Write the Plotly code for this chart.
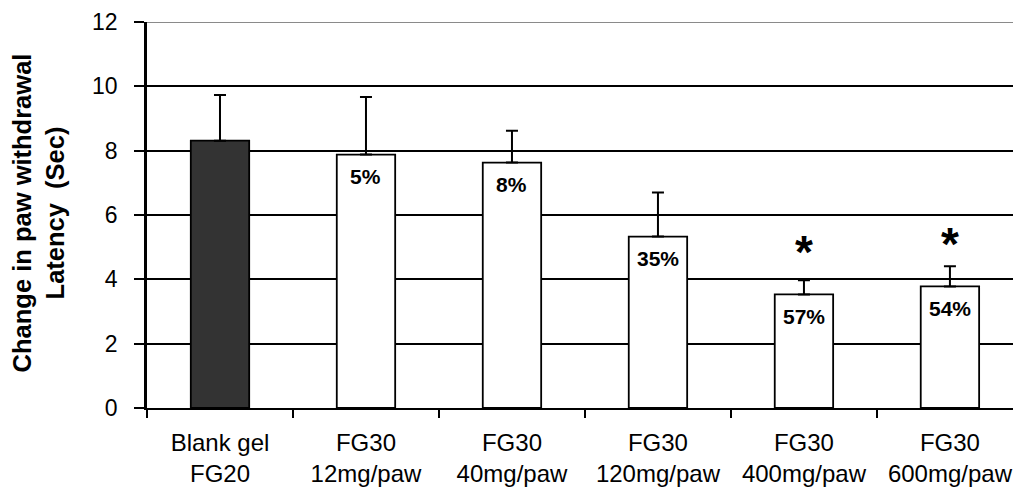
import plotly.graph_objects as go

# Paw withdrawal latency data
categories = ["Blank gel<br>FG20", "FG30<br>12mg/paw", "FG30<br>40mg/paw",
              "FG30<br>120mg/paw", "FG30<br>400mg/paw", "FG30<br>600mg/paw"]
means = [8.31, 7.88, 7.63, 5.33, 3.53, 3.78]
sd_upper = [1.42, 1.79, 0.99, 1.37, 0.44, 0.63]
pct_labels = ["", "5%", "8%", "35%", "57%", "54%"]
bar_colors = ["#333333", "#ffffff", "#ffffff", "#ffffff", "#ffffff", "#ffffff"]
sig_marks = ["", "", "", "", "*", "*"]
sig_heights = [None, None, None, None, 5.15, 5.42]

FONT = "Liberation Sans, Arial, sans-serif"

fig = go.Figure()
fig.add_trace(go.Bar(
    x=categories,
    y=means,
    width=0.4,
    marker=dict(color=bar_colors, line=dict(color="black", width=1.8)),
    error_y=dict(type="data", symmetric=False, array=sd_upper,
                 arrayminus=[0] * len(means), color="black",
                 thickness=2, width=6),
    showlegend=False,
))

annotations = []
# percentage labels just inside the top of each bar
for cat, m, lab in zip(categories, means, pct_labels):
    if lab:
        annotations.append(dict(
            x=cat, y=m, xref="x", yref="y", text=f"<b>{lab}</b>",
            showarrow=False, yanchor="middle", xanchor="center", yshift=-22,
            font=dict(family=FONT, size=21, color="black")))
# significance asterisks
for cat, s, h in zip(categories, sig_marks, sig_heights):
    if s:
        annotations.append(dict(
            x=cat, y=h, xref="x", yref="y", text=f"<b>{s}</b>",
            showarrow=False, yanchor="middle", xanchor="center", yshift=-10,
            font=dict(family=FONT, size=46, color="black")))
# y-axis title (two lines)
annotations.append(dict(
    x=-0.1255, y=0.505, xref="paper", yref="paper",
    text="<b>Change in paw withdrawal</b><br><b>Latency &nbsp;(Sec)</b>",
    textangle=-90, showarrow=False, xanchor="center", yanchor="middle",
    font=dict(family=FONT, size=25.5, color="black")))

fig.update_layout(
    width=1013, height=490,
    margin=dict(l=147, r=0, t=22, b=82, pad=0),
    paper_bgcolor="white", plot_bgcolor="white",
    font=dict(family=FONT, color="black"),
    annotations=annotations,
    shapes=[dict(type="line", xref="paper", yref="y", x0=0, x1=1, y0=12, y1=12,
                 line=dict(color="#8a8a8a", width=2), layer="above")],
    bargap=0.6,
)
fig.update_xaxes(
    type="category", range=[-0.5, 5.432], tickson="boundaries",
    ticks="outside", ticklen=8, tickwidth=2, tickcolor="black",
    showline=True, linecolor="black", linewidth=2, showgrid=False,
    tickfont=dict(family=FONT, size=24, color="black"),
    ticklabelstandoff=12, automargin=False,
)
fig.update_yaxes(
    range=[0, 12], tickvals=[0, 2, 4, 6, 8, 10, 12],
    ticks="outside", ticklen=10, tickwidth=2, tickcolor="black",
    showline=True, linecolor="black", linewidth=2.5,
    showgrid=True, gridcolor="black", gridwidth=1.5, zeroline=False,
    tickfont=dict(family=FONT, size=23, color="black"),
    ticklabelstandoff=12, automargin=False,
)

fig.write_html("out.html")
